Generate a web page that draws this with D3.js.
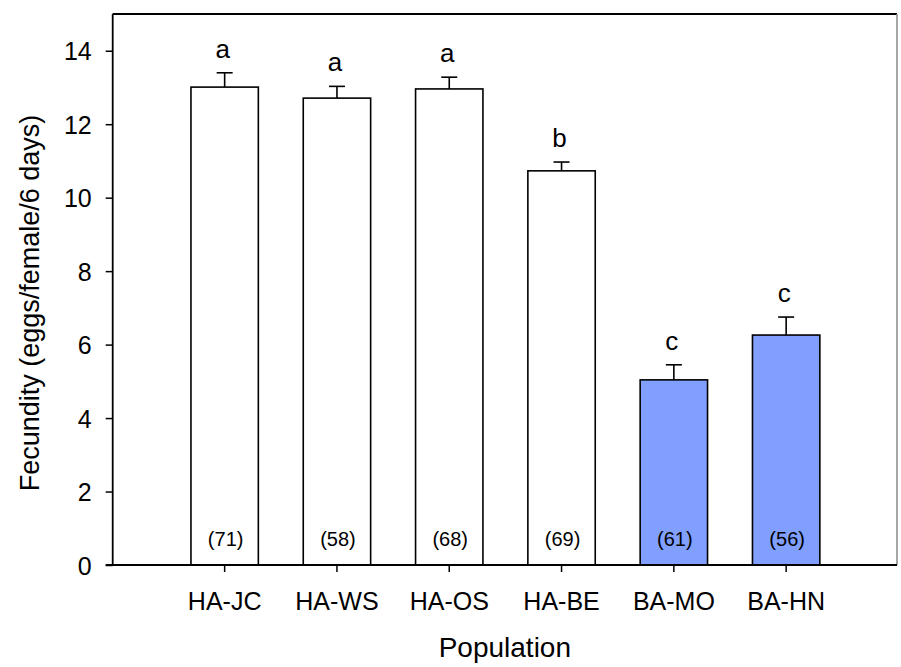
<!DOCTYPE html>
<html>
<head>
<meta charset="utf-8">
<script src="https://cdn.jsdelivr.net/npm/d3@7"></script>
<style>
  body { margin: 0; background: #fff; }
  text { font-family: Arial, "Liberation Sans", sans-serif; fill: #000; }
</style>
</head>
<body>
<div id="chart"></div>
<script>
// Data
const populations = ['HA-JC', 'HA-WS', 'HA-OS', 'HA-BE', 'BA-MO', 'BA-HN'];
const fecundity = [13.01, 12.71, 12.96, 10.73, 5.04, 6.26];
const stdErr = [0.39, 0.32, 0.32, 0.24, 0.41, 0.49];
const groupLetters = ['a', 'a', 'a', 'b', 'c', 'c'];
const sampleSizes = [71, 58, 68, 69, 61, 56];
const regionType = ['HA', 'HA', 'HA', 'HA', 'BA', 'BA'];
const yTicks = [0, 2, 4, 6, 8, 10, 12, 14];

const width = 901, height = 667;
const margin = { left: 112.7, top: 14, right: 4, bottom: 102 };

const svg = d3.select('#chart').append('svg')
    .attr('width', width)
    .attr('height', height);

const x = d3.scaleBand()
    .domain(populations)
    .range([168.5, 842.3])
    .paddingInner(0.4)
    .paddingOuter(0.2);

const y = d3.scaleLinear()
    .domain([0, 15])
    .range([height - margin.bottom, margin.top]);

const fillFor = t => t === 'BA' ? '#809fff' : '#ffffff';

const rows = populations.map((p, i) => ({
    pop: p, mean: fecundity[i], se: stdErr[i],
    letter: groupLetters[i], n: sampleSizes[i], type: regionType[i]
}));

// Frame: top and right lines
svg.append('line')
    .attr('x1', margin.left).attr('x2', width - margin.right)
    .attr('y1', y(15)).attr('y2', y(15))
    .attr('stroke', '#000').attr('stroke-width', 2.2);
svg.append('line')
    .attr('x1', width - margin.right).attr('x2', width - margin.right)
    .attr('y1', y(15)).attr('y2', y(0))
    .attr('stroke', '#888').attr('stroke-width', 1.5);

// Bars
svg.selectAll('rect.bar')
    .data(rows)
    .join('rect')
    .attr('class', 'bar')
    .attr('x', d => x(d.pop))
    .attr('y', d => y(d.mean))
    .attr('width', x.bandwidth())
    .attr('height', d => y(0) - y(d.mean))
    .attr('fill', d => fillFor(d.type))
    .attr('stroke', '#000')
    .attr('stroke-width', 1.6);

// Error bars (upper only)
const capHalf = 8;
const err = svg.append('g');
rows.forEach(d => {
    const cx = x(d.pop) + x.bandwidth() / 2;
    err.append('line')
        .attr('x1', cx).attr('x2', cx)
        .attr('y1', y(d.mean)).attr('y2', y(d.mean + d.se))
        .attr('stroke', '#000').attr('stroke-width', 1.6);
    err.append('line')
        .attr('x1', cx - capHalf).attr('x2', cx + capHalf)
        .attr('y1', y(d.mean + d.se)).attr('y2', y(d.mean + d.se))
        .attr('stroke', '#000').attr('stroke-width', 1.6);
});

// Significance letters
svg.selectAll('text.letter')
    .data(rows)
    .join('text')
    .attr('class', 'letter')
    .attr('x', d => x(d.pop) + x.bandwidth() / 2 - 2)
    .attr('y', d => y(d.mean + d.se) - 15)
    .attr('text-anchor', 'middle')
    .style('font-size', '26px')
    .text(d => d.letter);

// Sample sizes
svg.selectAll('text.n')
    .data(rows)
    .join('text')
    .attr('class', 'n')
    .attr('x', d => x(d.pop) + x.bandwidth() / 2 + 1)
    .attr('y', y(0) - 19)
    .attr('text-anchor', 'middle')
    .style('font-size', '20px')
    .text(d => `(${d.n})`);

// Y axis
const yAxis = d3.axisLeft(y)
    .tickValues(yTicks)
    .tickSize(7)
    .tickPadding(14);
const gy = svg.append('g')
    .attr('transform', `translate(${margin.left},0)`)
    .call(yAxis);
gy.select('.domain').remove();
gy.append('line')
    .attr('x1', 0).attr('x2', 0)
    .attr('y1', y(15)).attr('y2', y(0))
    .attr('stroke', '#000').attr('stroke-width', 1.8);
gy.selectAll('.tick line').attr('stroke', '#000').attr('stroke-width', 1.5);
gy.selectAll('.tick text')
    .style('font-size', '25px')
    .style('font-family', 'Arial, "Liberation Sans", sans-serif')
    .attr('dy', '0.36em');

// X axis
const xAxis = d3.axisBottom(x)
    .tickSize(7)
    .tickPadding(20);
const gx = svg.append('g')
    .attr('transform', `translate(0,${y(0)})`)
    .call(xAxis);
gx.select('.domain').remove();
gx.append('line')
    .attr('x1', margin.left - 7).attr('x2', width - margin.right)
    .attr('y1', 0).attr('y2', 0)
    .attr('stroke', '#000').attr('stroke-width', 2.2);
gx.selectAll('.tick line').attr('stroke', '#000').attr('stroke-width', 1.5);
gx.selectAll('.tick text')
    .style('font-size', '25px')
    .style('font-family', 'Arial, "Liberation Sans", sans-serif')
    .attr('dy', '0.71em');

// Axis titles
svg.append('text')
    .attr('x', (margin.left + width - margin.right) / 2)
    .attr('y', 657)
    .attr('text-anchor', 'middle')
    .style('font-size', '28px')
    .text('Population');

svg.append('text')
    .attr('transform', 'translate(39,303) rotate(-90)')
    .attr('text-anchor', 'middle')
    .style('font-size', '27px')
    .text('Fecundity (eggs/female/6 days)');
</script>
</body>
</html>
